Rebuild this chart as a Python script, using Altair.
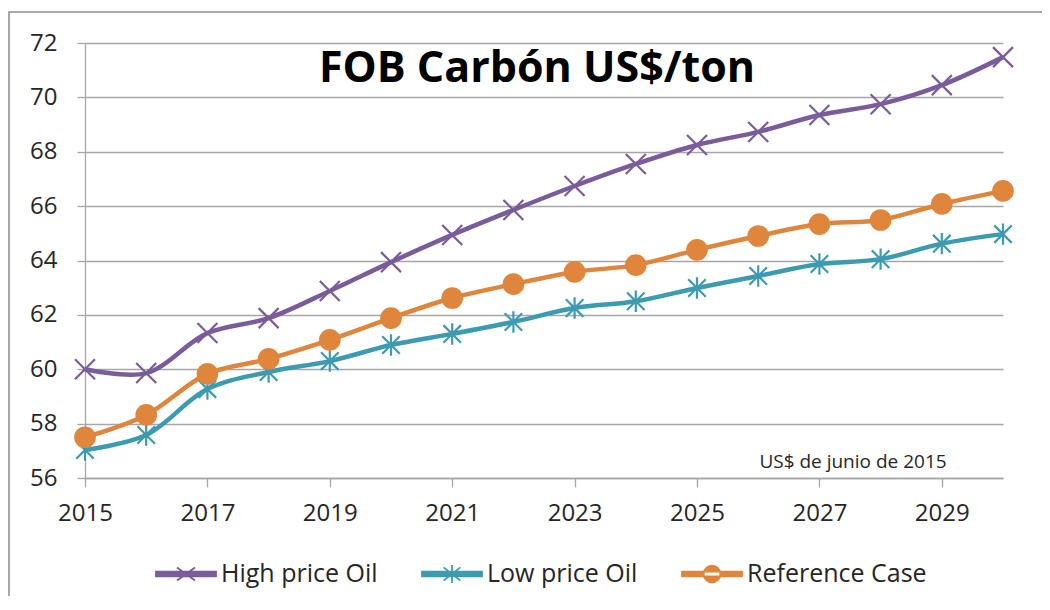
import altair as alt
import pandas as pd

years = list(range(2015, 2031))
high_price_oil = [60.00, 59.86, 61.33, 61.88, 62.88, 63.94, 64.94, 65.86,
                  66.74, 67.55, 68.25, 68.73, 69.35, 69.75, 70.45, 71.48]
low_price_oil = [57.03, 57.58, 59.27, 59.90, 60.30, 60.89, 61.30, 61.74,
                 62.25, 62.50, 62.99, 63.43, 63.87, 64.05, 64.62, 64.97]
reference_case = [57.50, 58.32, 59.83, 60.38, 61.08, 61.88, 62.62, 63.13,
                  63.58, 63.83, 64.39, 64.90, 65.34, 65.49, 66.08, 66.56]

series_names = ["High price Oil", "Low price Oil", "Reference Case"]
series_colors = ["#7A5C9C", "#3C9BB1", "#E0853C"]
x_tick_values = list(range(2015, 2030, 2))
y_tick_values = list(range(56, 73, 2))
title_text = "FOB Carbón US$/ton"
note_text = "US$ de junio de 2015"

rows = []
for name, vals in zip(series_names, [high_price_oil, low_price_oil, reference_case]):
    for yr, v in zip(years, vals):
        rows.append({"year": yr, "value": v, "series": name})
df = pd.DataFrame(rows)

FONT = "Open Sans"
GRID = "#A6A6A6"
TXT = "#262626"

x_enc = alt.X("year:Q",
              scale=alt.Scale(domain=[2015, 2030], nice=False, zero=False),
              axis=alt.Axis(values=x_tick_values, format="d", grid=False, title=None,
                            tickSize=9, labelPadding=14, labelFlush=False,
                            labelOverlap=False))
y_enc = alt.Y("value:Q",
              scale=alt.Scale(domain=[56, 72], nice=False, zero=False),
              axis=alt.Axis(values=y_tick_values, grid=True, title=None,
                            tickSize=8, labelPadding=20))

base = alt.Chart(df).encode(x=x_enc, y=y_enc)

X_PATH = "M-1,-1L1,1M-1,1L1,-1"
STAR_PATH = "M-0.9,-0.9L0.9,0.9M-0.9,0.9L0.9,-0.9M0,-1.1L0,1.1"

layers = []
# High price Oil
layers.append(base.transform_filter(alt.datum.series == series_names[0])
              .mark_line(interpolate="catmull-rom", strokeWidth=4.5, color=series_colors[0]))
layers.append(base.transform_filter(alt.datum.series == series_names[0])
              .mark_point(shape=X_PATH, size=400, filled=False, stroke=series_colors[0],
                          strokeWidth=2.2, opacity=1))
# Low price Oil
layers.append(base.transform_filter(alt.datum.series == series_names[1])
              .mark_line(interpolate="catmull-rom", strokeWidth=4.5, color=series_colors[1]))
layers.append(base.transform_filter(alt.datum.series == series_names[1])
              .mark_point(shape=STAR_PATH, size=380, filled=False, stroke=series_colors[1],
                          strokeWidth=2.2, opacity=1))
# Reference Case
layers.append(base.transform_filter(alt.datum.series == series_names[2])
              .mark_line(interpolate="catmull-rom", strokeWidth=4.5, color=series_colors[2]))
layers.append(base.transform_filter(alt.datum.series == series_names[2])
              .mark_circle(size=470, color=series_colors[2], opacity=1))

# Legend (symbols = line segment + marker)
LEG_HIGH = "M-1,-0.08L1,-0.08L1,0.08L-1,0.08ZM-0.3,-0.22L0.3,0.22M-0.3,0.22L0.3,-0.22"
LEG_LOW = "M-1,-0.08L1,-0.08L1,0.08L-1,0.08ZM-0.28,-0.22L0.28,0.22M-0.28,0.22L0.28,-0.22M0,-0.3L0,0.3"
LEG_REF = "M-1,-0.08L1,-0.08L1,0.08L-1,0.08ZM-0.28,0A0.28,0.28 0 1,0 0.28,0A0.28,0.28 0 1,0 -0.28,0Z"
leg_scale_c = alt.Scale(domain=series_names, range=series_colors)
legend = alt.Legend(title=None, orient="none", legendX=70, legendY=500, direction="horizontal",
                    symbolSize=3600, symbolStrokeWidth=1.8, labelFont=FONT, labelFontSize=25,
                    labelColor=TXT, labelOffset=4, columnPadding=40, symbolOpacity=1,
                    labelLimit=400)
layers.append(base.transform_filter("false").mark_point(opacity=1, filled=True).encode(
    fill=alt.Fill("series:N", scale=leg_scale_c, legend=legend),
    stroke=alt.Stroke("series:N", scale=leg_scale_c, legend=legend),
    shape=alt.Shape("series:N", scale=alt.Scale(domain=series_names,
                                                range=[LEG_HIGH, LEG_LOW, LEG_REF]),
                    legend=legend),
))

one = alt.Data(values=[{}])
title_layer = alt.Chart(one).mark_text(text=title_text, font=FONT, fontSize=43, fontWeight="bold",
                                       color="black", align="center", baseline="alphabetic"
                                       ).encode(x=alt.value(452), y=alt.value(39))
note_layer = alt.Chart(one).mark_text(text=note_text, font=FONT, fontSize=19, color=TXT,
                                      align="center", baseline="alphabetic"
                                      ).encode(x=alt.value(768), y=alt.value(425))
border = alt.Chart(one).mark_rect(fillOpacity=0, stroke="#8C8C8C", strokeWidth=1.5).encode(
    x=alt.value(-76), x2=alt.value(3000), y=alt.value(-31), y2=alt.value(3000))

chart = alt.layer(border, *layers, title_layer, note_layer).properties(
    width=918, height=435,
    autosize=alt.AutoSizeParams(type="none"),
    padding={"left": 77, "top": 35, "right": 39, "bottom": 118},
).configure_view(stroke=None).configure_axis(
    labelFont=FONT, labelFontSize=24, labelColor=TXT,
    gridColor=GRID, gridWidth=1.3, domainColor=GRID, domainWidth=1.3,
    tickColor=GRID, tickWidth=1.3,
)

chart.save("out.html", embed_options={"renderer": "svg", "actions": False})
